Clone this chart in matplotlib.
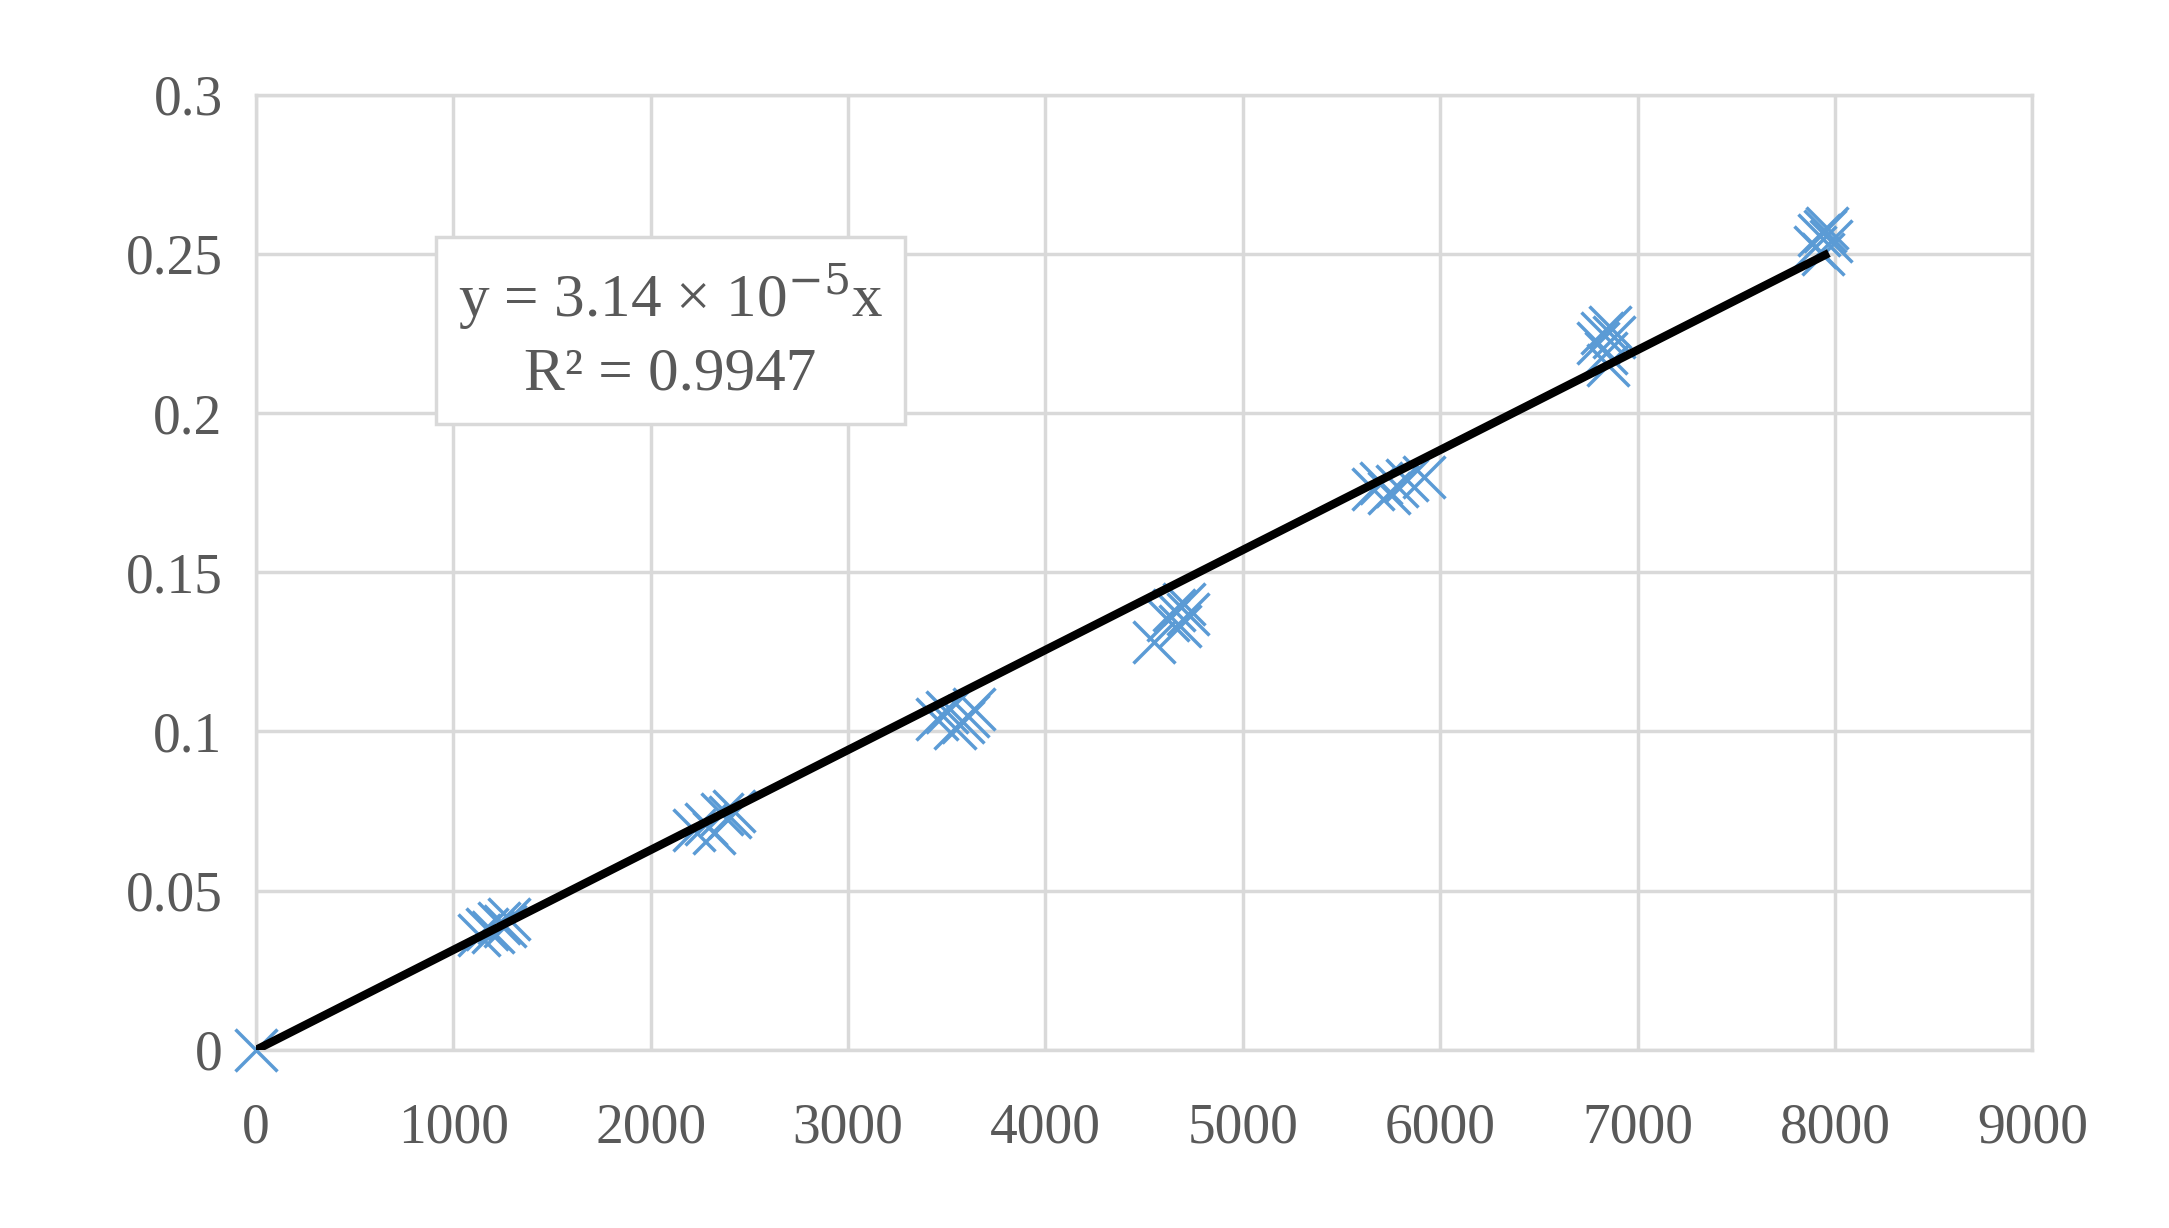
import numpy as np
import matplotlib.pyplot as plt

plt.rcParams['font.family'] = ['Liberation Serif', 'DejaVu Serif']

# measured points (concentration vs absorbance)
x = [0,
     1130, 1170, 1200, 1230, 1260, 1280,
     2220, 2280, 2320, 2360, 2400, 2420,
     3450, 3500, 3540, 3580, 3610, 3640,
     4550, 4620, 4650, 4680, 4700, 4720,
     5660, 5700, 5740, 5780, 5830, 5920,
     6800, 6820, 6840, 6860, 6880, 6850,
     7900, 7920, 7940, 7960, 7980, 7950]
y = [0,
     0.036, 0.038, 0.037, 0.040, 0.039, 0.041,
     0.069, 0.071, 0.068, 0.074, 0.073, 0.075,
     0.104, 0.106, 0.101, 0.103, 0.105, 0.107,
     0.128, 0.135, 0.138, 0.133, 0.140, 0.137,
     0.176, 0.178, 0.175, 0.177, 0.179, 0.180,
     0.222, 0.225, 0.219, 0.227, 0.224, 0.215,
     0.252, 0.256, 0.250, 0.258, 0.254, 0.257]
slope = 3.14e-5
x_fit = [0, 7950]
xticks = np.arange(0, 9001, 1000)
yticks = [0, 0.05, 0.1, 0.15, 0.2, 0.25, 0.3]
ytick_labels = ['0', '0.05', '0.1', '0.15', '0.2', '0.25', '0.3']

fig, ax = plt.subplots(figsize=(21.69, 12.28), dpi=100)
fig.subplots_adjust(left=0.118, right=0.937, top=0.923, bottom=0.145)

ax.plot(x, y, 'x', color='#5b9bd5', markersize=30, markeredgewidth=2.5, zorder=3, clip_on=False)
ax.plot(x_fit, [slope * v for v in x_fit], color='black', linewidth=6, zorder=4)

ax.set_xlim(0, 9000)
ax.set_ylim(0, 0.3)
ax.set_xticks(xticks)
ax.set_yticks(yticks)
ax.set_yticklabels(ytick_labels)
ax.tick_params(labelsize=40, colors='#595959', length=0)
ax.tick_params(axis='x', pad=38)
ax.tick_params(axis='y', pad=24)
ax.grid(True, color='#d9d9d9', linewidth=2.5)
ax.set_axisbelow(True)
for s in ax.spines.values():
    s.set_color('#d9d9d9')
    s.set_linewidth(2.5)

ax.text(2100, 0.2255, 'y = 3.14 × 10$^{-5}$x\nR² = 0.9947', fontsize=44, color='#595959',
        ha='center', va='center', linespacing=1.35, math_fontfamily='dejavuserif',
        bbox=dict(facecolor='white', edgecolor='#d9d9d9', linewidth=2.5, pad=16))

plt.savefig('out.png', dpi=100)
